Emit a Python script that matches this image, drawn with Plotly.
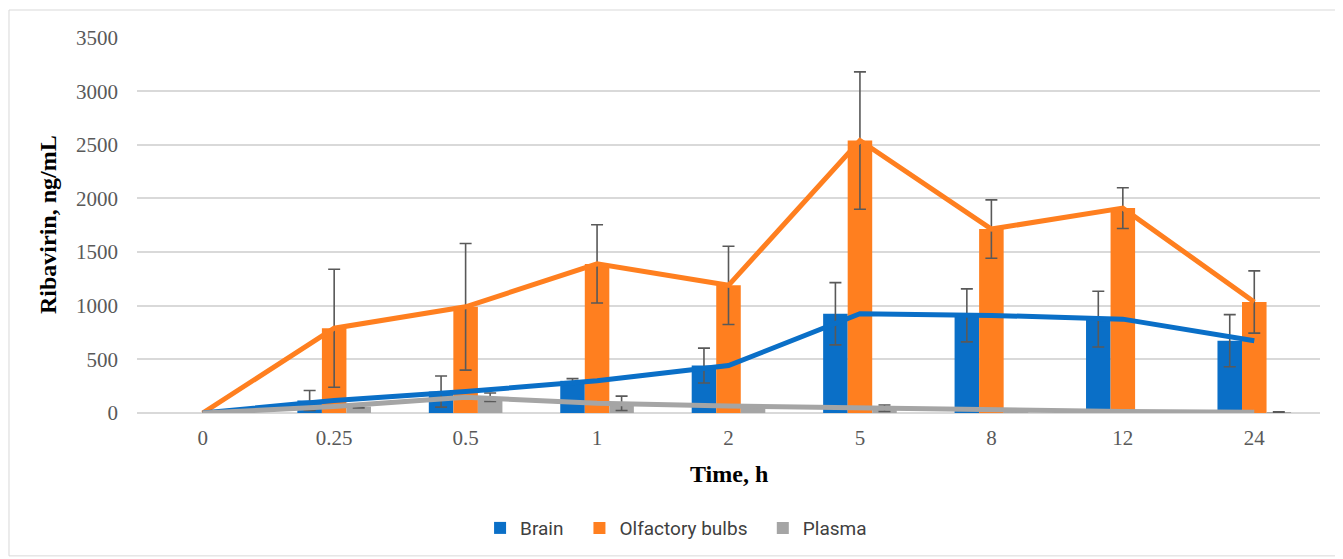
import plotly.graph_objects as go

time_labels = ["0", "0.25", "0.5", "1", "2", "5", "8", "12", "24"]

brain = [0, 117, 200, 300, 442, 925, 910, 875, 674]
brain_err = [0, 93, 145, 20, 163, 290, 247, 260, 243]

olfactory = [0, 790, 990, 1390, 1190, 2540, 1715, 1910, 1035]
olfactory_err = [0, 550, 590, 365, 365, 640, 272, 190, 290]

plasma = [0, 60, 147, 90, 65, 45, 25, 15, 8]
plasma_err = [0, 12, 39, 67, 5, 30, 5, 5, 4]

series_names = ["Brain", "Olfactory bulbs", "Plasma"]
colors = ["#0A6FC7", "#FF7F1F", "#A5A5A5"]
values = [brain, olfactory, plasma]
errors = [brain_err, olfactory_err, plasma_err]
legend_ids = ["legend", "legend2", "legend3"]
legend_x = [0.290, 0.374, 0.529]

fig = go.Figure()

# bars (the zero time point has no bar)
for name, col, v, e, lg in zip(series_names, colors, values, errors, legend_ids):
    fig.add_trace(go.Bar(
        x=time_labels[1:], y=v[1:], name=name,
        marker=dict(color=col, line=dict(width=0)),
        error_y=dict(type="data", array=e[1:], visible=True, color="#595959",
                     thickness=1.6, width=6),
        showlegend=True, legend=lg,
    ))

# lines: orange first, then blue, then grey on top
for idx in [1, 0, 2]:
    fig.add_trace(go.Scatter(
        x=time_labels, y=values[idx], mode="lines",
        line=dict(color=colors[idx], width=5),
        showlegend=False, hoverinfo="skip",
    ))

serif = "Liberation Serif"

legend_style = dict(
    orientation="h", xanchor="left", y=-0.306, yanchor="middle",
    font=dict(family="Roboto", size=19, color="#404040"),
    itemwidth=30, bgcolor="rgba(0,0,0,0)",
)

fig.update_layout(
    width=1335, height=551,
    margin=dict(l=129, r=23, t=29, b=146),
    paper_bgcolor="white", plot_bgcolor="white",
    barmode="group", bargap=0.44, bargroupgap=0,
    xaxis=dict(
        type="category", categoryorder="array", categoryarray=time_labels,
        range=[-0.5, len(time_labels) - 0.5],
        showgrid=False, showline=False, zeroline=False,
        tickfont=dict(family=serif, size=21, color="#595959"),
        ticks="", ticklabelstandoff=10,
    ),
    yaxis=dict(
        range=[0, 3505], tickvals=[0, 500, 1000, 1500, 2000, 2500, 3000, 3500],
        showgrid=True, gridcolor="#D9D9D9", gridwidth=1.5,
        zeroline=True, zerolinecolor="#D9D9D9", zerolinewidth=1.5,
        showline=False, ticks="", ticklabelstandoff=18,
        tickfont=dict(family=serif, size=21, color="#595959"),
    ),
    legend=dict(x=legend_x[0], **legend_style),
    legend2=dict(x=legend_x[1], **legend_style),
    legend3=dict(x=legend_x[2], **legend_style),
    annotations=[
        dict(text="<b>Ribavirin, ng/mL</b>", xref="paper", yref="paper",
             x=-0.0752, y=0.5, xanchor="center", yanchor="middle",
             textangle=-90, showarrow=False,
             font=dict(family=serif, size=24, color="black")),
        dict(text="<b>Time, h</b>", xref="paper", yref="paper",
             x=0.5, y=-0.162, xanchor="center", yanchor="middle",
             showarrow=False, font=dict(family=serif, size=24, color="black")),
    ],
    shapes=[
        dict(type="rect", xref="paper", yref="paper",
             x0=-0.1082, x1=1.016, y0=-0.380, y1=1.0718,
             line=dict(color="#D9D9D9", width=1), fillcolor="rgba(0,0,0,0)",
             layer="below"),
    ],
)

fig.write_html("out.html")
